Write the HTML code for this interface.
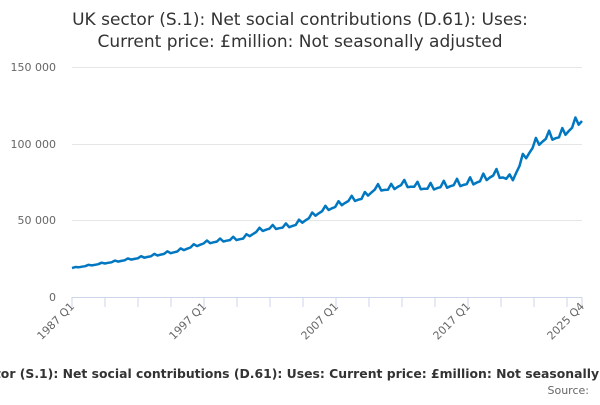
<!DOCTYPE html>
<html><head><meta charset="utf-8"><style>
body{margin:0;width:600px;height:400px;overflow:hidden;background:#fff;font-family:"Liberation Sans","DejaVu Sans",sans-serif}
</style></head><body>
<svg id="s" width="600" height="400" xmlns="http://www.w3.org/2000/svg" font-family="DejaVu Sans, Liberation Sans, sans-serif">
<text x="300" y="25" text-anchor="middle" font-size="17" fill="#333">UK sector (S.1): Net social contributions (D.61): Uses:</text>
<text x="300" y="47" text-anchor="middle" font-size="17" fill="#333">Current price: £million: Not seasonally adjusted</text>
<g stroke="#e6e6e6" stroke-width="1">
<line x1="72" x2="582" y1="67.5" y2="67.5"/><line x1="72" x2="582" y1="144.5" y2="144.5"/><line x1="72" x2="582" y1="220.5" y2="220.5"/>
</g>
<g font-size="11" fill="#666" text-anchor="end">
<text x="56" y="71">150 000</text><text x="56" y="148">100 000</text><text x="56" y="224">50 000</text><text x="56" y="301">0</text>
</g>
<line x1="72" x2="582" y1="297.5" y2="297.5" stroke="#ccd6eb"/>
<g id="ticks" stroke="#ccd6eb"></g>
<g font-size="11" fill="#666" text-anchor="end">
<text transform="translate(75,307) rotate(-45)">1987 Q1</text>
<text transform="translate(207,307) rotate(-45)">1997 Q1</text>
<text transform="translate(339,307) rotate(-45)">2007 Q1</text>
<text transform="translate(471,307) rotate(-45)">2017 Q1</text>
<text transform="translate(585,307) rotate(-45)">2025 Q4</text>
</g>
<polyline id="ln" fill="none" stroke="#0077c0" stroke-width="2.5" stroke-linejoin="round"/>
<text x="306" y="378" text-anchor="middle" font-size="12.4" font-weight="bold" fill="#333">UK sector (S.1): Net social contributions (D.61): Uses: Current price: £million: Not seasonally adjusted</text>
<text x="589" y="394" text-anchor="end" font-size="11" fill="#666">Source:</text>
</svg>
<script>
var t=document.getElementById('ticks'),h='';
for(var i=0;i<=15;i++){var x=72+i*33;h+='<line x1="'+x+'" x2="'+x+'" y1="297" y2="307"/>';}
h+='<line x1="582" x2="582" y1="297" y2="307"/>';t.innerHTML=h;
var k=[[72,268],[112,262],[151,256],[178,251],[204,243],[218,241],[244,238],[257,231],[270,228],[283,227],[297,224],[310,217],[323,210],[336,206],[349,200],[362,198],[376,188],[389,189],[402,184],[415,186],[428,188],[442,186],[455,184],[468,183],[481,180],[494,174],[504,176],[511,181],[521,162],[534,145],[547,137],[560,136],[574,125],[582,119]];
function f(x){for(var i=1;i<k.length;i++)if(x<=k[i][0]){var a=k[i-1],b=k[i];return a[1]+(b[1]-a[1])*(x-a[0])/(b[0]-a[0]);}return k[k.length-1][1];}
var p=[];for(var q=0;q<156;q++){var x=72+q*510/155;var amp=(x-72)/510*6+0.5;var s=[0.2,-1,0.5,0.3][q%4];p.push(x.toFixed(1)+','+(f(x)+s*amp).toFixed(1));}
document.getElementById('ln').setAttribute('points',p.join(' '));
</script>
</body></html>
